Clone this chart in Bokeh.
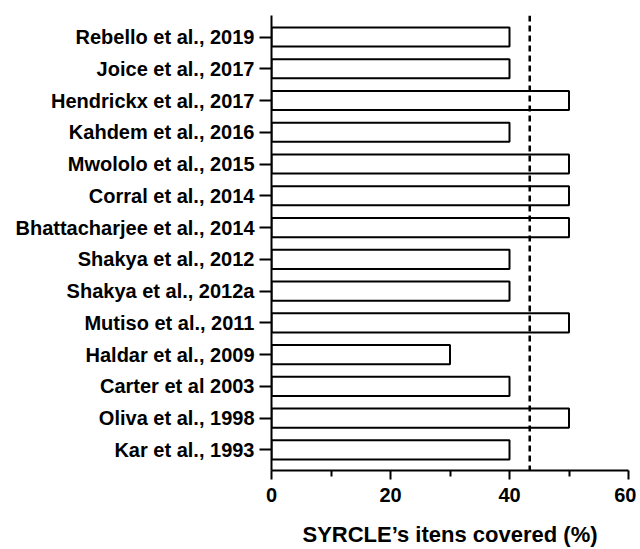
from bokeh.plotting import figure
from bokeh.models import Range1d, FixedTicker, Span
from bokeh.embed import file_html
from bokeh.resources import INLINE

studies = [
    "Rebello et al., 2019",
    "Joice et al., 2017",
    "Hendrickx et al., 2017",
    "Kahdem et al., 2016",
    "Mwololo et al., 2015",
    "Corral et al., 2014",
    "Bhattacharjee et al., 2014",
    "Shakya et al., 2012",
    "Shakya et al., 2012a",
    "Mutiso et al., 2011",
    "Haldar et al., 2009",
    "Carter et al 2003",
    "Oliva et al., 1998",
    "Kar et al., 1993",
]
items_covered = [40, 40, 50, 40, 50, 50, 50, 40, 40, 50, 30, 40, 50, 40]
reference_value = 43.4
x_ticks = [0, 20, 40, 60]
x_minor = [10, 30, 50]

n = len(studies)
ypos = [n - 1 - i for i in range(n)]

FONT = "Liberation Sans"
W, H = 636, 549

p = figure(width=W, height=H, output_backend="svg", toolbar_location=None,
           x_range=Range1d(0, 60), y_range=Range1d(-0.65, n - 1 + 0.68),
           min_border_left=271, min_border_right=W - 628, min_border_top=15,
           min_border_bottom=H - 470)
p.outline_line_color = None
p.xgrid.visible = False
p.ygrid.visible = False
p.background_fill_color = "white"

p.hbar(y=ypos, right=items_covered, left=0, height=0.6,
       fill_color="white", line_color="black", line_width=2)

p.add_layout(Span(location=reference_value, dimension="height",
                  line_color="black", line_width=2.5, line_dash="6 4"))

# x axis
xa = p.xaxis[0]
xa.ticker = FixedTicker(ticks=x_ticks, minor_ticks=x_minor)
xa.axis_line_width = 2
xa.major_tick_line_width = 2
xa.minor_tick_line_width = 2
xa.major_tick_in = 0
xa.major_tick_out = 9
xa.minor_tick_in = 0
xa.minor_tick_out = 6
xa.major_label_text_font = FONT
xa.major_label_text_font_style = "bold"
xa.major_label_text_font_size = "20px"
xa.major_label_text_color = "black"
xa.major_label_standoff = 8
xa.axis_label = "SYRCLE\u2019s itens covered (%)"
xa.axis_label_text_font = FONT
xa.axis_label_text_font_style = "bold"
xa.axis_label_text_font_size = "22px"
xa.axis_label_text_color = "black"
xa.axis_label_standoff = 17

# y axis
ya = p.yaxis[0]
ya.ticker = FixedTicker(ticks=ypos, minor_ticks=[])
ya.major_label_overrides = {y: s for y, s in zip(ypos, studies)}
ya.axis_line_width = 2
ya.major_tick_line_width = 2
ya.major_tick_in = 0
ya.major_tick_out = 12
ya.minor_tick_in = 0
ya.minor_tick_out = 0
ya.major_label_text_font = FONT
ya.major_label_text_font_style = "bold"
ya.major_label_text_font_size = "20px"
ya.major_label_text_color = "black"
ya.major_label_standoff = 5

open("out.html", "w").write(file_html(p, INLINE))
